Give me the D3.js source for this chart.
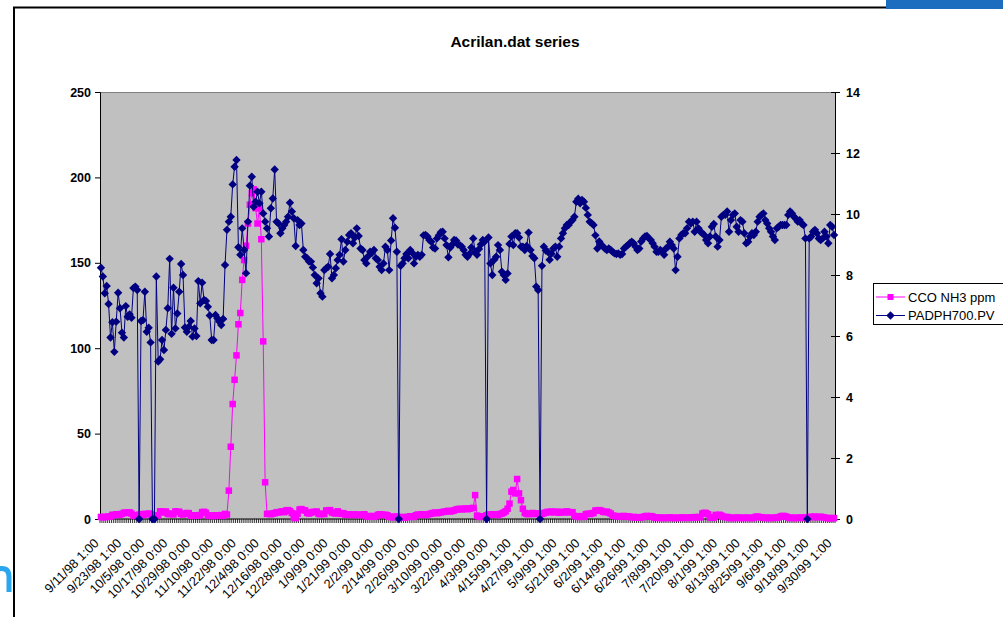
<!DOCTYPE html>
<html>
<head>
<meta charset="utf-8">
<script src="https://cdn.jsdelivr.net/npm/d3@7"></script>
<style>
  html, body { margin: 0; padding: 0; background: #fff; }
  svg { display: block; font-family: "Liberation Sans", Arial, sans-serif; }
</style>
</head>
<body>
<svg id="chart" width="1003" height="617"></svg>
<script>
// ---- data -------------------------------------------------------------
// one sample per day, 9/11/98 through 9/30/99
const categories = d3.timeDay.range(new Date(1998, 8, 11), new Date(1999, 9, 1));

// category-axis labels, one every 12 days
const tickLabels = [
  "9/11/98 1:00", "9/23/98 1:00", "10/5/98 0:00", "10/17/98 0:00", "10/29/98 0:00",
  "11/10/98 0:00", "11/22/98 0:00", "12/4/98 0:00", "12/16/98 0:00", "12/28/98 0:00",
  "1/9/99 0:00", "1/21/99 0:00", "2/2/99 0:00", "2/14/99 0:00", "2/26/99 0:00",
  "3/10/99 0:00", "3/22/99 0:00", "4/3/99 0:00", "4/15/99 1:00", "4/27/99 1:00",
  "5/9/99 1:00", "5/21/99 1:00", "6/2/99 1:00", "6/14/99 1:00", "6/26/99 1:00",
  "7/8/99 1:00", "7/20/99 1:00", "8/1/99 1:00", "8/13/99 1:00", "8/25/99 1:00",
  "9/6/99 1:00", "9/18/99 1:00", "9/30/99 1:00"
];

const leftTicks = [0, 50, 100, 150, 200, 250];
const rightTicks = [0, 2, 4, 6, 8, 10, 12, 14];

// CCO NH3 ppm (primary axis)
const nh3 = [
  1.2, 1.0, 1.3, 1.1, 1.5, 1.4,
  2.5, 2.2, 2.8, 2.4, 2.6, 3.0,
  3.6, 3.8, 3.5, 3.9, 3.2,
  2.0, 1.8, 2.2,
  2.5, 2.8, 2.3,
  3.0, 2.7, 3.2, 2.9,
  2.0, 1.8, 2.1, 2.2,
  4.5, 4.2, 3.8, 4.4,
  3.0, 2.8, 3.2, 2.7,
  4.5, 4.0, 4.3,
  3.0, 2.6, 3.1,
  3.5, 3.4,
  2.0, 1.8, 2.2, 1.9, 2.1, 2.3,
  4.0, 4.2, 3.6,
  2.0, 1.8, 2.1, 1.7, 2.2, 1.9, 2.0, 2.3, 1.8,
  3.0, 2.6,
  16.6, 42.3, 67.3, 81.5, 95.8, 114, 120.6, 140, 151.6, 160,
  173, 184, 190.7, 193, 182, 173, 181.9, 163.8, 104, 21.5, 3.0,
  3.0, 2.8, 3.2, 3.4,
  4.0, 3.8, 4.2, 4.5, 4.0,
  5.0, 5.2, 4.6,
  3.5, 1.0, 0.5, 3.0,
  5.5, 5.8, 5.2, 5.0,
  3.6, 3.2, 3.8,
  4.2, 4.0, 4.4,
  3.0, 2.8, 3.1, 2.9,
  5.0, 4.8, 5.2,
  3.8, 3.5, 3.2, 4.5, 3.6, 3.0, 3.4,
  2.6, 2.4, 2.8, 2.5, 2.3, 2.7,
  2.4, 2.6, 2.2, 2.5, 2.8,
  1.6, 1.4, 1.8, 1.5, 1.3, 1.7,
  2.4, 2.8, 2.6, 2.3, 2.5, 2.2,
  1.4, 1.2, 1.0, 1.3, 1.5, 1.1, 0.9, 1.2, 0.8, 1.0, 1.3, 1.6, 1.2, 1.4,
  2.2, 2.6, 2.4, 2.8, 2.5, 2.3, 2.7, 2.9,
  3.2, 3.5, 3.8, 3.4, 3.6, 3.9, 4.1, 4.3,
  4.5, 4.8, 4.4, 4.7, 5.0,
  5.5, 5.8, 6.0, 5.6, 5.9, 6.2, 5.7, 6.0, 6.3, 6.5,
  14.0,
  2.0, 1.5, 1.2, 1.4, 1.6,
  2.2, 2.6, 2.4, 2.8, 2.5, 2.7, 2.3, 2.9, 3.2, 3.8,
  4.5, 6.0, 9.0, 16.0, 17.0, 15.0, 23.4, 15.0, 11.0, 6.0, 3.5,
  3.0, 2.8, 3.2, 3.5, 2.9, 3.1, 3.3, 2.7, 3.0, 3.4,
  3.8, 4.2, 4.0, 4.4, 3.9, 4.1, 4.3, 3.7, 4.0, 4.2, 3.8, 4.5, 4.1, 3.9, 4.0,
  1.8, 1.5, 1.2, 1.4, 1.7, 1.3,
  2.8, 3.1, 2.9, 3.3, 3.5,
  5.0, 4.8, 5.2, 4.9,
  4.2, 4.0, 4.3, 3.8, 3.2,
  2.0, 1.8, 1.5, 1.7, 1.6, 1.4, 1.8, 1.5, 1.6, 1.3,
  1.0, 1.2, 0.9, 1.1, 0.8, 1.0, 1.2,
  1.6, 1.8, 1.5, 1.7, 1.4,
  0.8, 0.6, 0.9, 0.7, 0.5, 0.8, 0.6, 0.7, 0.9, 0.6, 0.8, 0.5, 0.7, 0.6, 0.9, 0.8, 0.7, 0.6, 0.8, 0.9, 1.0,
  1.1, 0.9, 1.2, 1.0,
  3.2, 3.6, 3.5, 2.8,
  0.9, 0.7, 0.8,
  2.4, 2.2, 2.5, 2.0,
  1.3, 1.1, 1.2,
  0.7, 0.5, 0.8, 0.6, 0.7, 0.9, 0.6, 0.5, 0.7, 0.8, 0.6, 0.7, 0.5, 0.8,
  1.3, 1.4, 1.1, 1.0,
  0.7, 0.6, 0.8, 0.5, 0.7, 0.6, 0.8, 0.7, 0.9,
  1.5, 1.8, 1.7, 1.4,
  0.7, 0.6, 0.8, 0.5, 0.7, 0.6, 0.8, 0.7, 0.6, 0.9, 0.7,
  1.1, 1.3, 1.2, 1.4, 1.0, 1.2, 1.3, 1.1, 0.9,
  0.6, 0.5, 0.4, 0.6, 0.5
];

// PADPH700.PV (secondary axis)
const padph = [
  8.24, 7.95, 7.40, 7.64, 7.05, 5.95, 6.45, 5.48, 6.47, 7.42,
  6.91, 6.11, 5.95, 6.98, 6.63, 6.71, 6.60, 7.57, 7.62, 7.51,
  0, 6.49, 6.52, 7.45, 6.14, 6.27, 5.79, 0, 0, 7.95,
  5.16, 5.24, 5.87, 5.54, 6.20, 6.91, 8.53, 6.07, 7.58, 6.25,
  6.74, 7.45, 8.36, 8.00, 6.28, 6.14, 6.30, 6.49, 5.98, 6.25,
  6.00, 7.80, 7.07, 7.75, 7.18, 7.15, 6.96, 6.67, 5.87, 5.87,
  6.69, 6.58, 6.47, 6.36, 6.56, 8.33, 9.48, 9.75, 9.91, 10.97,
  11.55, 11.77, 8.91, 8.66, 9.53, 8.82, 8.06, 9.75, 10.93, 11.22,
  10.24, 10.40, 10.73, 10.35, 10.73, 10.02, 9.75, 9.53, 9.26, 10.19,
  10.51, 11.46, 9.75, 9.69, 9.37, 9.53, 9.64, 9.75, 9.91, 10.37,
  10.08, 9.86, 8.95, 9.80, 9.64, 9.69, 8.82, 8.60, 8.55, 8.44,
  8.44, 8.25, 8.00, 7.73, 7.89, 7.40, 7.29, 8.16, 8.22, 8.27,
  8.69, 7.89, 8.00, 8.22, 8.49, 8.66, 9.17, 8.44, 8.82, 9.09,
  9.31, 9.37, 9.04, 9.23, 9.53, 9.28, 8.87, 8.82, 8.49, 8.38,
  8.62, 8.76, 8.73, 8.82, 8.55, 8.49, 8.27, 8.16, 8.38, 8.93,
  8.82, 8.16, 9.13, 9.86, 9.55, 8.76, 0, 8.30, 8.38, 8.55,
  8.69, 8.55, 8.82, 8.73, 8.38, 8.60, 8.66, 8.60, 8.66, 9.30,
  9.31, 9.26, 9.15, 9.09, 8.90, 8.87, 9.20, 9.30, 9.40, 9.42,
  9.20, 8.98, 8.58, 8.90, 9.00, 9.15, 9.13, 9.00, 8.98, 8.93,
  8.82, 8.66, 8.60, 8.69, 8.90, 9.20, 8.76, 8.66, 8.85, 9.00,
  9.15, 9.10, 0, 9.23, 8.38, 8.00, 8.50, 8.60, 8.98, 8.82,
  8.11, 8.00, 7.84, 8.05, 9.02, 9.26, 8.98, 9.37, 9.37, 9.23,
  8.93, 8.93, 8.82, 8.95, 9.39, 8.82, 8.62, 8.55, 7.62, 7.51,
  0, 8.30, 8.93, 8.80, 8.76, 8.50, 8.70, 8.87, 8.93, 8.60,
  8.93, 9.20, 9.37, 9.53, 9.64, 9.64, 9.75, 9.80, 9.91, 10.40,
  10.50, 10.35, 10.46, 10.40, 10.20, 9.97, 9.75, 9.70, 9.64, 9.30,
  8.87, 9.10, 9.00, 8.93, 8.87, 8.82, 8.87, 8.82, 8.76, 8.71,
  8.69, 8.71, 8.66, 8.69, 8.87, 8.93, 8.98, 9.04, 9.09, 9.04,
  8.93, 8.82, 8.87, 9.10, 9.20, 9.26, 9.28, 9.20, 9.15, 9.04,
  8.93, 8.76, 8.76, 8.82, 8.76, 8.66, 8.87, 8.93, 9.09, 8.98,
  8.87, 8.16, 8.60, 9.20, 9.31, 9.37, 9.37, 9.53, 9.75, 9.69,
  9.75, 9.42, 9.75, 9.53, 9.42, 9.37, 9.31, 9.15, 9.04, 9.26,
  9.58, 9.67, 9.26, 8.93, 9.15, 9.91, 9.97, 9.97, 10.08, 9.42,
  9.80, 9.97, 10.02, 9.58, 9.42, 9.80, 9.75, 9.37, 9.04, 9.09,
  9.26, 9.37, 9.31, 9.42, 9.75, 9.91, 9.97, 10.02, 9.80, 9.69,
  9.53, 9.42, 9.26, 9.15, 9.53, 9.58, 9.64, 9.64, 9.64, 9.64,
  9.97, 10.08, 10.02, 9.91, 9.85, 9.75, 9.80, 9.69, 9.64, 9.20,
  0, 9.20, 9.26, 9.42, 9.48, 9.37, 9.20, 9.15, 9.20, 9.42,
  9.26, 9.04, 9.64, 9.58, 9.31
];

const seriesNames = ["CCO NH3 ppm", "PADPH700.PV"];
const seriesColors = ["#ff00ff", "#000080"];

// ---- layout ------------------------------------------------------------
const W = 1003, H = 617;
const plot = { left: 100, right: 835, top: 92, bottom: 519 };
const svg = d3.select("#chart");

svg.append("rect").attr("width", W).attr("height", H).attr("fill", "#fff");

// slide frame, accent bar and the edge of the slide artwork on the left
svg.append("path")
  .attr("d", `M14,${H} V7.5 H886`)
  .attr("fill", "none").attr("stroke", "#000").attr("stroke-width", 2);
svg.append("rect").attr("x", 886).attr("y", 0).attr("width", W - 886).attr("height", 9)
  .attr("fill", "#1c6dc0");
svg.append("path")
  .attr("d", "M-6,592 V577 Q-6,568.5 2,568.5 Q9,568.5 9,577 V592")
  .attr("fill", "none").attr("stroke", "#2aa6ee").attr("stroke-width", 5);

// ---- scales -------------------------------------------------------------
const x = d3.scaleBand().domain(d3.range(categories.length)).range([plot.left, plot.right]);
const cx = i => x(i) + x.bandwidth() / 2;
const yL = d3.scaleLinear().domain([0, 250]).range([plot.bottom, plot.top]);
const yR = d3.scaleLinear().domain([0, 14]).range([plot.bottom, plot.top]);

// plot area
svg.append("rect")
  .attr("x", plot.left).attr("y", plot.top)
  .attr("width", plot.right - plot.left).attr("height", plot.bottom - plot.top)
  .attr("fill", "#c0c0c0");
svg.append("line")
  .attr("x1", plot.left).attr("x2", plot.right)
  .attr("y1", plot.top + 0.5).attr("y2", plot.top + 0.5)
  .attr("stroke", "#808080");

// title
svg.append("text")
  .attr("x", 515).attr("y", 47)
  .attr("text-anchor", "middle")
  .attr("font-size", 15.5).attr("font-weight", "bold")
  .text("Acrilan.dat series");

// ---- axes ---------------------------------------------------------------
const axisLeft = svg.append("g")
  .attr("transform", `translate(${plot.left},0)`)
  .call(d3.axisLeft(yL).tickValues(leftTicks).tickSize(5).tickPadding(4).tickFormat(d3.format("d")));
const axisRight = svg.append("g")
  .attr("transform", `translate(${plot.right},0)`)
  .call(d3.axisRight(yR).tickValues(rightTicks).tickSize(5).tickPadding(6).tickFormat(d3.format("d")));
[axisLeft, axisRight].forEach(g => {
  g.select(".domain").attr("stroke", "#000");
  g.selectAll(".tick line").attr("stroke", "#000");
  g.selectAll("text").attr("font-size", 12.5).attr("font-weight", "bold")
    .attr("fill", "#000").attr("font-family", "'Liberation Sans', Arial, sans-serif");
});
axisRight.selectAll(".tick line").attr("x1", -4);

// category axis: a tick at every category boundary, a label every 12 days
const axisBottom = svg.append("g").attr("transform", `translate(0,${plot.bottom})`);
axisBottom.selectAll("line.cat")
  .data(d3.range(categories.length + 1))
  .join("line")
  .attr("class", "cat")
  .attr("x1", k => plot.left + k * x.bandwidth())
  .attr("x2", k => plot.left + k * x.bandwidth())
  .attr("y1", 0).attr("y2", 4)
  .attr("stroke", "#000").attr("stroke-width", 0.8);
axisBottom.append("line")
  .attr("x1", plot.left).attr("x2", plot.right)
  .attr("stroke", "#000");
axisBottom.selectAll("text.lbl")
  .data(tickLabels)
  .join("text")
  .attr("class", "lbl")
  .attr("text-anchor", "end")
  .attr("font-size", 12.8)
  .attr("transform", (d, k) => `translate(${cx(k * 12) - 1.5},25) rotate(-45)`)
  .text(d => d);

// ---- series ---------------------------------------------------------------
const nh3Line = d3.line().x((d, i) => cx(i)).y(d => yL(d));
const phLine = d3.line().x((d, i) => cx(i)).y(d => yR(d));
const sq = 6.5;

svg.append("path").attr("d", nh3Line(nh3))
  .attr("fill", "none").attr("stroke", seriesColors[0]).attr("stroke-width", 1);
svg.append("g").selectAll("rect")
  .data(nh3)
  .join("rect")
  .attr("x", (d, i) => cx(i) - sq / 2).attr("y", d => yL(d) - sq / 2)
  .attr("width", sq).attr("height", sq)
  .attr("fill", seriesColors[0]);

const diamond = "M0,-4.2L4.2,0L0,4.2L-4.2,0Z";
svg.append("path").attr("d", phLine(padph))
  .attr("fill", "none").attr("stroke", seriesColors[1]).attr("stroke-width", 1);
svg.append("g").selectAll("path")
  .data(padph)
  .join("path")
  .attr("transform", (d, i) => `translate(${cx(i)},${yR(d)})`)
  .attr("d", diamond)
  .attr("fill", seriesColors[1]);

// ---- legend ---------------------------------------------------------------
const legend = svg.append("g");
legend.append("rect")
  .attr("x", 873.5).attr("y", 283.5).attr("width", 140).attr("height", 41)
  .attr("fill", "#fff").attr("stroke", "#000");
seriesNames.forEach((name, k) => {
  const ly = 297 + k * 18.5;
  legend.append("line").attr("x1", 876).attr("x2", 905).attr("y1", ly).attr("y2", ly)
    .attr("stroke", seriesColors[k]).attr("stroke-width", 1);
  if (k === 0) {
    legend.append("rect").attr("x", 887.5).attr("y", ly - 3).attr("width", 6).attr("height", 6)
      .attr("fill", seriesColors[k]);
  } else {
    legend.append("path").attr("transform", `translate(890.5,${ly})`).attr("d", diamond)
      .attr("fill", seriesColors[k]);
  }
  legend.append("text").attr("x", 908).attr("y", ly + 4.5)
    .attr("font-size", 13).attr("fill", "#000").text(name);
});
</script>
</body>
</html>
